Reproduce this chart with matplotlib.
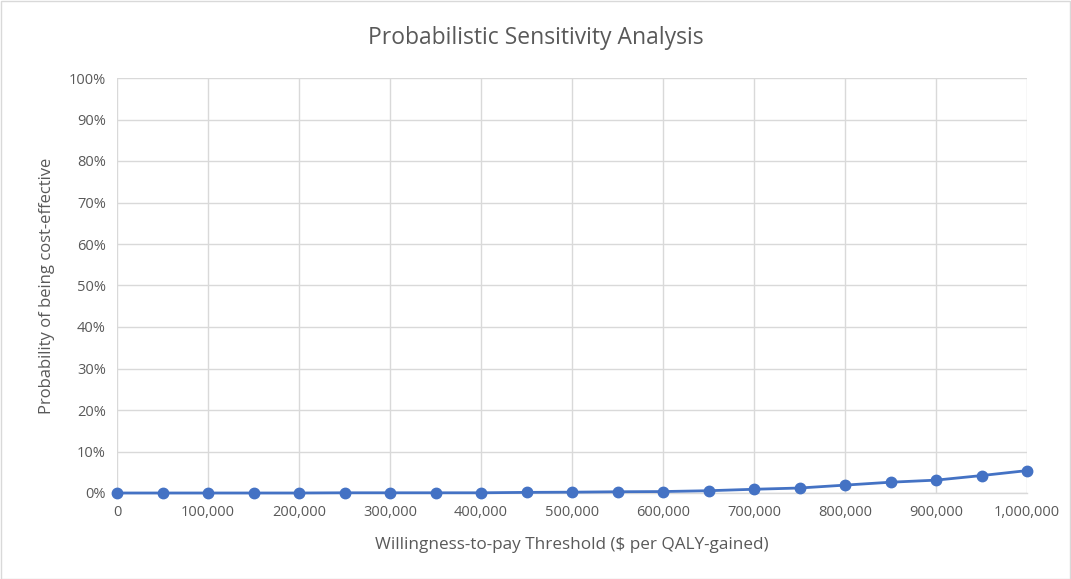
import matplotlib
matplotlib.use("Agg")
import matplotlib.pyplot as plt
from matplotlib.ticker import FuncFormatter, MultipleLocator
from matplotlib.patches import Rectangle

wtp = [0, 50000, 100000, 150000, 200000, 250000, 300000, 350000, 400000, 450000,
       500000, 550000, 600000, 650000, 700000, 750000, 800000, 850000, 900000,
       950000, 1000000]
prob = [0.0, 0.0, 0.0, 0.0, 0.0, 0.0005, 0.0005, 0.0005, 0.0005, 0.0015,
        0.002, 0.003, 0.0035, 0.0055, 0.009, 0.012, 0.019, 0.026, 0.031,
        0.042, 0.054]

title = "Probabilistic Sensitivity Analysis"
xlabel = "Willingness-to-pay Threshold ($ per QALY-gained)"
ylabel = "Probability of being cost-effective"

plt.rcParams['font.family'] = ['Open Sans', 'DejaVu Sans']

W, H = 1071, 579
fig = plt.figure(figsize=(W / 100, H / 100), dpi=100)
ax = fig.add_axes([117 / W, 1 - 493 / H, (1027 - 117) / W, (493 - 78) / H])

line_color = "#4472C4"
ax.plot(wtp, prob, color=line_color, linewidth=2.0, marker='o', markersize=7.5,
        zorder=3, clip_on=False)

ax.set_xlim(0, 1000000)
ax.set_ylim(0, 1.0)
ax.xaxis.set_major_locator(MultipleLocator(100000))
ax.yaxis.set_major_locator(MultipleLocator(0.1))
ax.xaxis.set_major_formatter(FuncFormatter(lambda v, p: f"{int(round(v)):,}"))
ax.yaxis.set_major_formatter(FuncFormatter(lambda v, p: f"{int(round(v * 100))}%"))

ax.grid(True, color="#d9d9d9", linewidth=1.0, zorder=0)
ax.set_axisbelow(True)
for s in ["top", "right", "left"]:
    ax.spines[s].set_visible(False)
ax.spines["bottom"].set_color("#d9d9d9")
ax.spines["bottom"].set_linewidth(1.0)
ax.tick_params(axis='both', length=0, colors="#595959", labelsize=10.5)
ax.tick_params(axis='x', pad=9)
ax.tick_params(axis='y', pad=8)

ax.set_xlabel(xlabel, fontsize=12.3, color="#595959", labelpad=12)
ax.set_ylabel(ylabel, fontsize=12, color="#595959", labelpad=10)
fig.text(0.5, 1 - 38 / H, title, ha='center', va='center', fontsize=16.5, color="#595959")

fig.patches.append(Rectangle((0.5 / W, 0.5 / H), 1 - 1.5 / W, 1 - 1.5 / H,
                             transform=fig.transFigure, fill=False,
                             edgecolor="#d9d9d9", linewidth=1))

fig.savefig("out.png", dpi=100, facecolor="white")
